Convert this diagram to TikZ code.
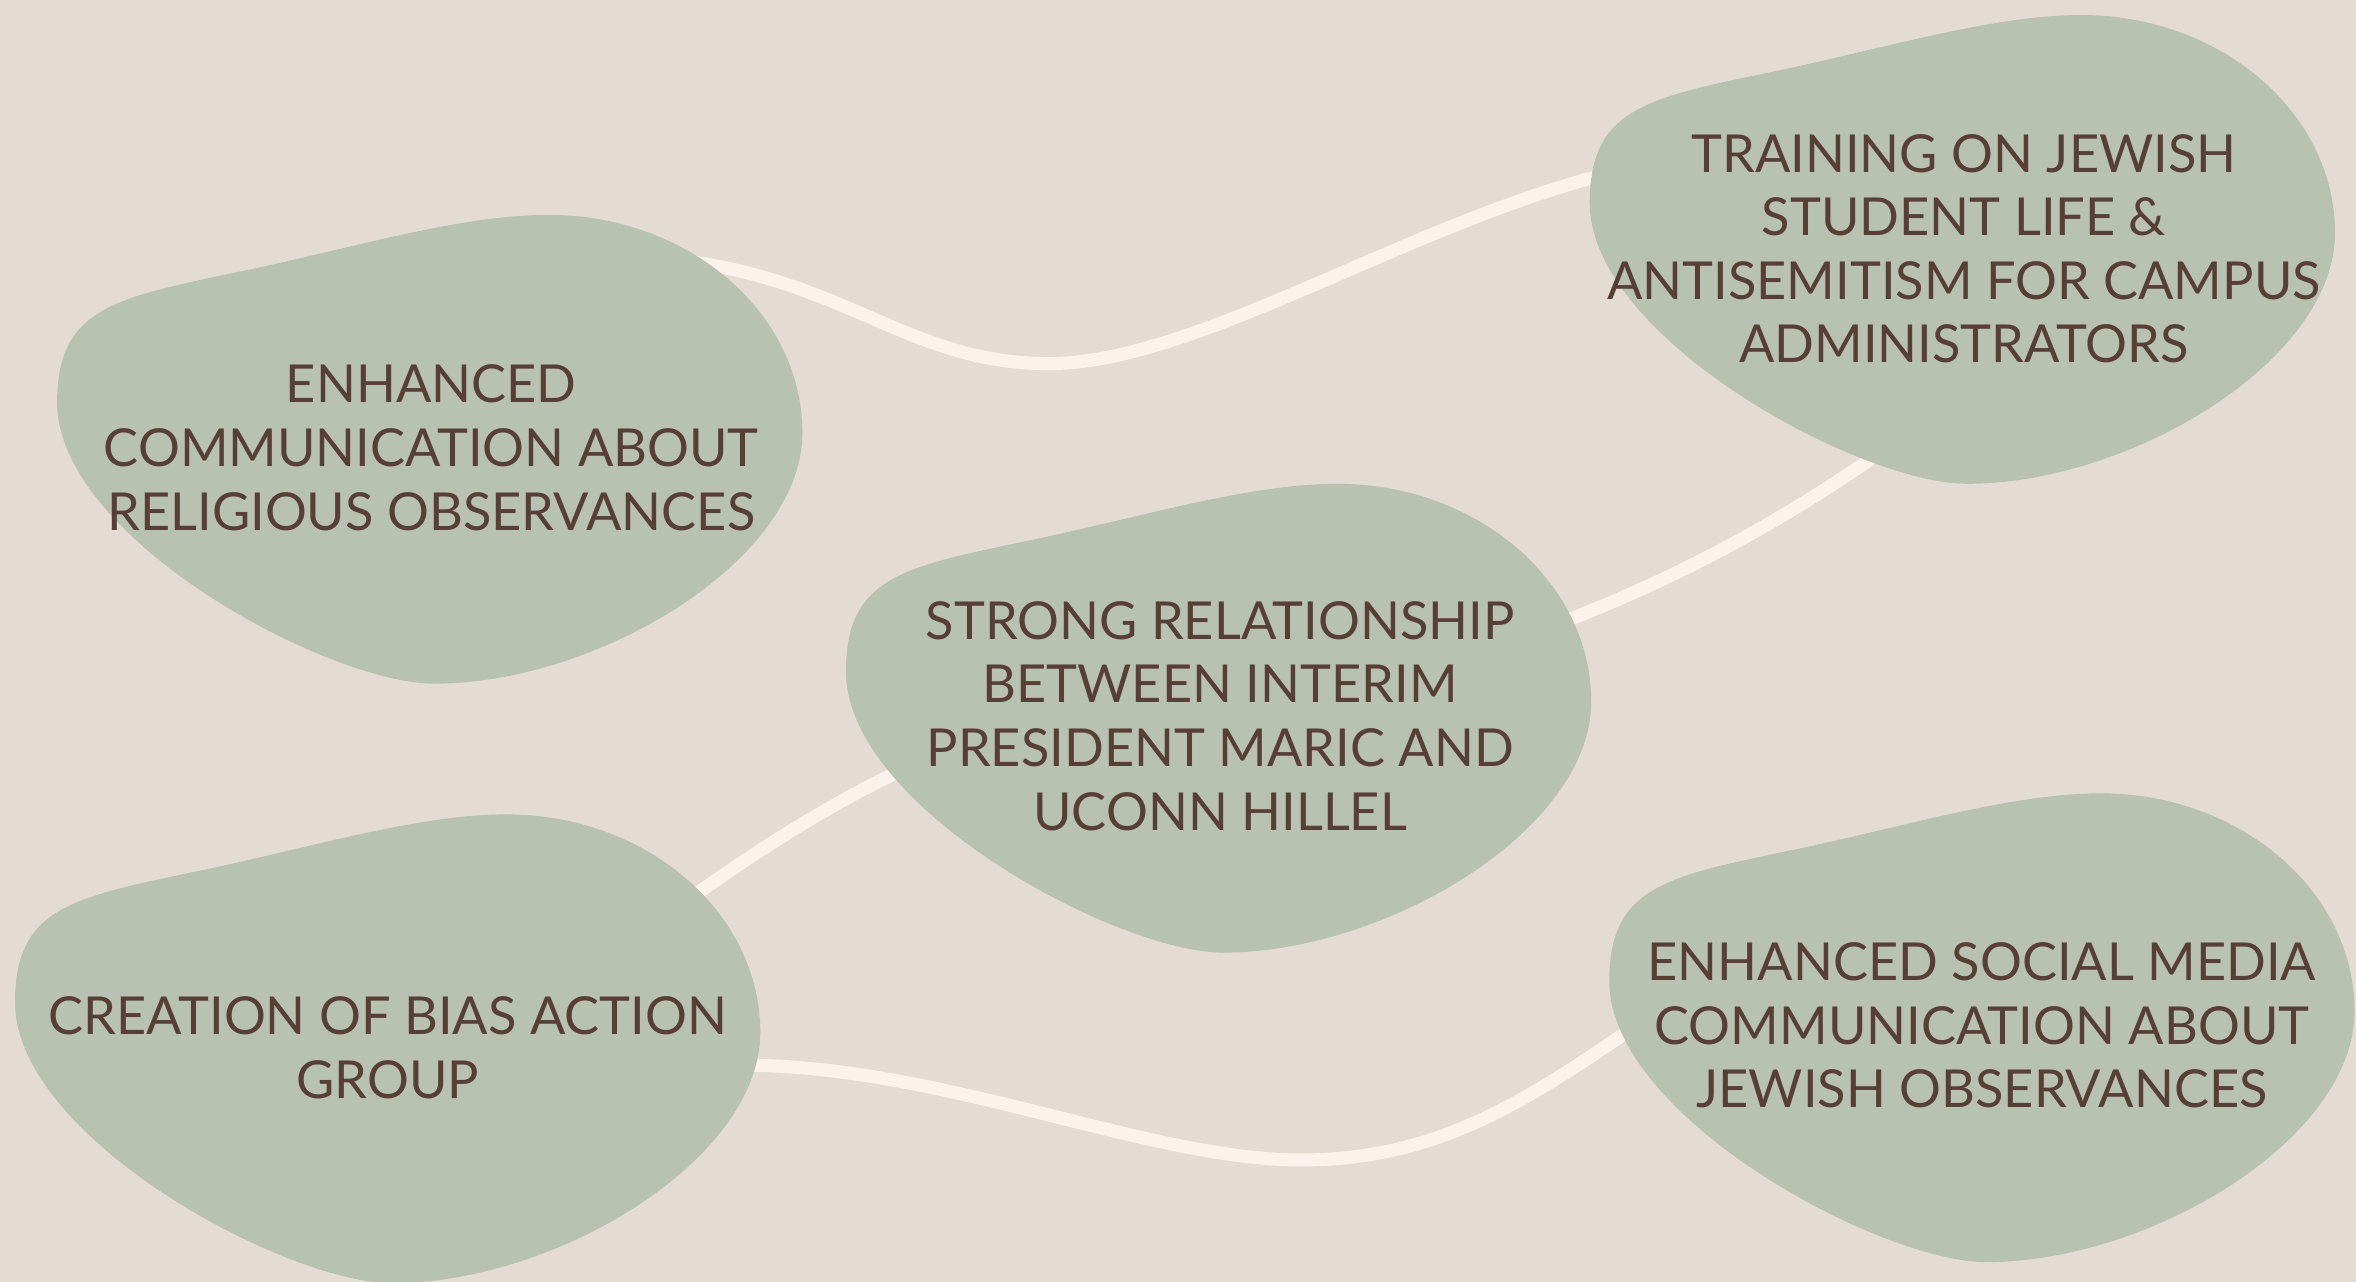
\documentclass[tikz,border=0pt]{standalone}
\usepackage{fontspec}
\setmainfont{Lato}
\usepackage{tikz}
\usetikzlibrary{positioning,calc}

\definecolor{paper}{HTML}{E4DCD2}
\definecolor{blobfill}{HTML}{B8C2B1}
\definecolor{ideatext}{HTML}{573F35}
\definecolor{linkcol}{HTML}{FCF2EC}

\begin{document}
\begin{tikzpicture}[
        x=0.015026cm, y=-0.015026cm,
        blob/.pic={
            \fill[blobfill] (0,125) .. controls (0,60) and (40,55) .. (130,36)
                .. controls (200,21) and (270,0) .. (327,0)
                .. controls (420,0) and (496,65) .. (496,145)
                .. controls (496,230) and (360,312) .. (251,312)
                .. controls (180,312) and (0,215) .. cycle;
        },
        idea/.style={text=ideatext, align=center, inner sep=0pt,
            font=\fontsize{14.9}{18.1}\selectfont},
        link/.style={draw=linkcol, line width=3.7pt}
    ]
    \clip (0,0) rectangle (1568,853);
    \fill[paper] (0,0) rectangle (1568,853);

    % link ends, hidden under the blobs
    \coordinate (b1-tail) at (430,171);
    \coordinate (b2-head) at (1090,111);
    \coordinate (b3-tail) at (1010,425);
    \coordinate (b2-foot) at (1260,295);
    \coordinate (b4-tail) at (440,612);
    \coordinate (b3-head) at (610,508);
    \coordinate (b4-east) at (480,709);
    \coordinate (b5-head) at (1100,675);
    \coordinate (dip1) at (698,242);
    \coordinate (dip2) at (866,772);

    \draw[link] (b1-tail) .. controls +(130,9) and +(-98,0) .. (dip1)
        .. controls +(102,0) and +(-140,29) .. (b2-head);
    \draw[link] (b3-tail) .. controls +(100,-35) and +(-70,50) .. (b2-foot);
    \draw[link] (b4-tail) .. controls +(50,-37) and +(-60,27) .. (b3-head);
    \draw[link] (b4-east) .. controls +(140,-4) and +(-106,0) .. (dip2)
        .. controls +(94,0) and +(-80,55) .. (b5-head);

    % blobs
    \pic at (38,143) {blob};
    \pic at (1058,10) {blob};
    \pic at (563,322) {blob};
    \pic at (10,542) {blob};
    \pic at (1071,528) {blob};

    \node[idea] (b1) at (287,298) {ENHANCED\\COMMUNICATION ABOUT\\RELIGIOUS OBSERVANCES};
    \node[idea] (b2) at (1307,165.5) {TRAINING ON JEWISH\\STUDENT LIFE \&\\ANTISEMITISM FOR CAMPUS\\ADMINISTRATORS};
    \node[idea] (b3) at (812,476.5) {STRONG RELATIONSHIP\\BETWEEN INTERIM\\PRESIDENT MARIC AND\\UCONN HILLEL};
    \node[idea] (b4) at (258,697.5) {CREATION OF BIAS ACTION\\GROUP};
    \node[idea] (b5) at (1319,682.5) {ENHANCED SOCIAL MEDIA\\COMMUNICATION ABOUT\\JEWISH OBSERVANCES};
\end{tikzpicture}
\end{document}
